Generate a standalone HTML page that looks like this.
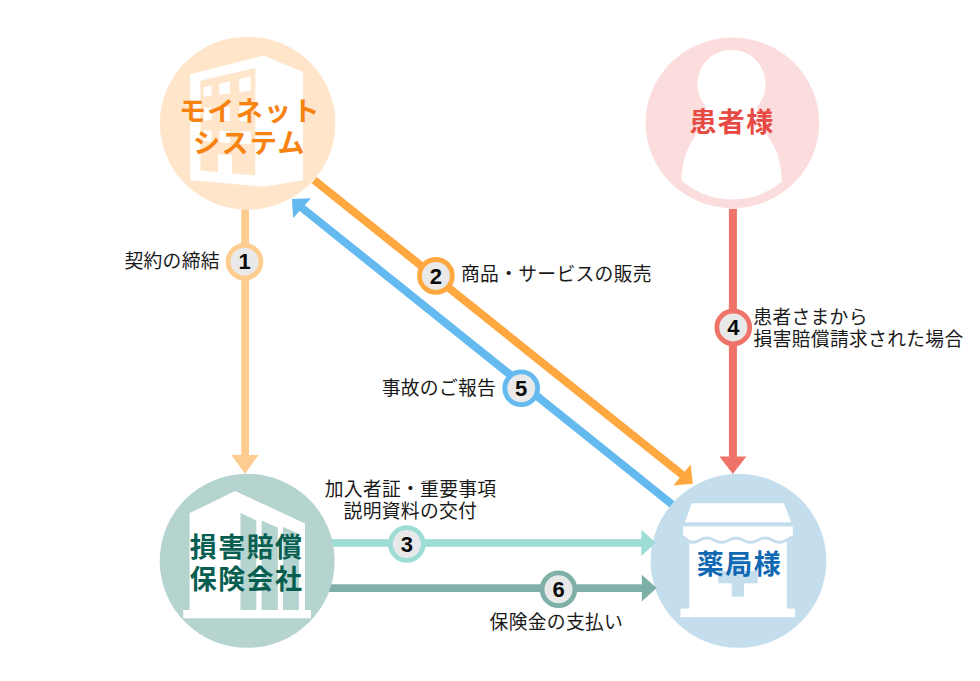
<!DOCTYPE html>
<html lang="ja">
<head>
<meta charset="utf-8">
<title>損害賠償保険の仕組み</title>
<style>
html,body{margin:0;padding:0;background:#fff;}
body{width:980px;height:681px;overflow:hidden;position:relative;font-family:"Liberation Sans","Noto Sans CJK JP",sans-serif;}
svg{position:absolute;left:0;top:0;display:block;}
.lbl{font-family:"Liberation Sans","Noto Sans CJK JP",sans-serif;font-size:18.8px;fill:#1a1a1a;letter-spacing:0.3px;}
.big{font-family:"Liberation Sans","Noto Sans CJK JP",sans-serif;font-weight:700;font-size:27px;text-anchor:middle;letter-spacing:1.4px;}
.num{font-family:"Liberation Sans","Noto Sans CJK JP",sans-serif;font-weight:700;font-size:22px;fill:#0a0a0a;text-anchor:middle;}
</style>
</head>
<body>
<svg width="980" height="681" viewBox="0 0 980 681">
<!-- ===== connector lines ===== -->
<g id="lines">
  <!-- 1 -->
  <rect x="241.2" y="208" width="7.8" height="248" fill="#FFCC8F"/>
  <polygon points="231.4,454.9 258.6,454.9 245.1,473.7" fill="#FFCC8F"/>
  <!-- 4 -->
  <rect x="728.9" y="208.8" width="8" height="249" fill="#F0736A"/>
  <polygon points="719.4,456.5 746.4,456.5 732.8,474" fill="#F0736A"/>
  <!-- 2 orange -->
  <line x1="314.2" y1="180.2" x2="683" y2="475.4" stroke="#FFA840" stroke-width="8"/>
  <polygon points="692.8,483.7 690.6,464.5 673.3,485.4" fill="#FFA840"/>
  <!-- 5 blue -->
  <line x1="301.5" y1="207.5" x2="676" y2="507.5" stroke="#64B9EF" stroke-width="8"/>
  <polygon points="291.9,198.9 311.1,198.2 293.2,218" fill="#64B9EF"/>
  <!-- 3 teal -->
  <rect x="325" y="539.1" width="318" height="7.7" fill="#9DDDD5"/>
  <!-- 6 dark teal -->
  <rect x="325" y="584.3" width="318" height="7.7" fill="#7FB0A8"/>
</g>

<!-- ===== circle 1 : moinet ===== -->
<g id="c1">
  <ellipse cx="247.65" cy="123.2" rx="87.8" ry="86.5" fill="#FFE5CA"/>
  <polygon points="190,74.3 263.6,55.6 303,72 303,180.2 263.6,186.7 190.5,180.2" fill="#fff"/>
  <polygon points="200.4,80.7 255.3,67.9 255.3,175.5 200.5,170.6" fill="#FFE5CA"/>
  <!-- windows -->
  <g fill="#fff">
    <polygon points="203.6,87.4 211.6,85.6 211.6,95.8 203.6,96.6"/>
    <polygon points="219.3,83.7 230,81.2 230,93.6 219.3,94.8"/>
    <polygon points="239.3,79 250.8,76.3 250.8,90.8 239.3,92.3"/>
    <polygon points="203.6,108 211.6,107.6 211.6,120.6 203.6,120.4"/>
    <polygon points="219.3,107.2 230,106.6 230,121 219.3,120.8"/>
    <polygon points="239.3,106 250.8,105.4 250.8,121.6 239.3,121.2"/>
    <polygon points="203.6,130.4 211.6,130.6 211.6,141.6 203.6,141"/>
    <polygon points="219.3,130.8 230,131 230,143 219.3,142.4"/>
    <polygon points="239.3,131.4 250.8,131.6 250.8,144.6 239.3,143.8"/>
    <polygon points="218,154.3 232.1,155 232.1,173.6 218,172.3"/>
  </g>
  <text class="big" x="249.9" y="121.2" fill="#F78210">モイネット</text>
  <text class="big" x="249.5" y="153" fill="#F78210">システム</text>
</g>

<!-- ===== circle 2 : patient ===== -->
<g id="c2">
  <ellipse cx="732.4" cy="122.9" rx="86.8" ry="85.3" fill="#FBDDDD"/>
  <clipPath id="pc"><ellipse cx="732.4" cy="122.7" rx="77.4" ry="76.8"/></clipPath>
  <g clip-path="url(#pc)" fill="#fff">
    <ellipse cx="731.5" cy="84" rx="34.2" ry="34.2"/>
    <path d="M706.3,106 C 703,116 700.5,124.5 697,132 S 691.5,141.5 688.6,147.4 S 684.8,156.5 683.5,162.6 S 681.3,175 681,182 L 680.6,215 L 782.4,215 L 782,182 C 781.7,175.0 780.8,168.7 779.5,162.6 C 778.2,156.5 777.3,153.3 774.4,147.4 C 771.5,141.5 769.5,139.5 766.0,132.0 C 762.5,124.5 760.0,116.0 756.7,106.0 Z"/>
  </g>
  <text class="big" x="732" y="132" fill="#E64A43">患者様</text>
</g>

<!-- ===== circle 3 : insurance ===== -->
<g id="c3">
  <ellipse cx="247.2" cy="560.85" rx="87.5" ry="87" fill="#B5D3CF"/>
  <polygon points="189.6,513.1 235.2,491.1 305,523.4 305,610 189.6,610" fill="#fff"/>
  <rect x="183.2" y="610" width="127.8" height="8.3" fill="#fff"/>
  <g fill="#B5D3CF">
    <polygon points="240.5,513.1 256.3,520.5 256.3,610 240.5,610"/>
    <polygon points="261.6,520.5 277.8,527.8 277.8,610 261.6,610"/>
    <polygon points="283,527 298.9,533.7 298.9,610 283,610"/>
  </g>
  <text class="big" x="246.6" y="556.5" fill="#085F51">損害賠償</text>
  <text class="big" x="246.6" y="589" fill="#085F51">保険会社</text>
</g>

<!-- ===== circle 4 : pharmacy ===== -->
<g id="c4">
  <ellipse cx="738.5" cy="560.85" rx="87.9" ry="87" fill="#C5DEED"/>
  <polygon points="691.8,503.2 784,503.2 791.1,522.2 685,522.2" fill="#fff"/>
  <path d="M683.2,526.6 L792.8,526.6 L792.8,536.5 C 789,538.5 785,542.3 779.8,542.3 C 772.5,542.3 772.5,538 765.2,538 C 757.9,538 757.9,542.3 750.6,542.3 C 743.3,542.3 743.3,538 736,538 C 728.7,538 728.7,542.3 721.4,542.3 C 714.1,542.3 714.1,538 706.8,538 C 699.5,538 699.5,542.3 692.2,542.3 C 688,542.3 686,538.5 683.2,536.5 Z" fill="#fff"/>
  <rect x="689.3" y="536" width="97.5" height="73" fill="#fff"/>
  <path d="M683.2,536.5 C 686,538.5 688,542.3 692.2,542.3 C 699.5,542.3 699.5,538 706.8,538 C 714.1,538 714.1,542.3 721.4,542.3 C 728.7,542.3 728.7,538 736,538 C 743.3,538 743.3,542.3 750.6,542.3 C 757.9,542.3 757.9,538 765.2,538 C 772.5,538 772.5,542.3 779.8,542.3 C 785,542.3 789,538.5 792.8,536.5" fill="none" stroke="#C5DEED" stroke-width="2.9"/>
  <rect x="680.5" y="608.6" width="114.5" height="8.6" fill="#fff"/>
  <rect x="718.1" y="571" width="39.6" height="12.3" fill="#C5DEED"/>
  <rect x="731.7" y="557.5" width="12.4" height="39.2" fill="#C5DEED"/>
  <text class="big" x="739.55" y="573.8" fill="#1068B3" style="letter-spacing:1.5px">薬局様</text>
</g>

<g id="heads">
  <polygon points="641.3,529.5 641.3,556 655.9,542.7" fill="#9DDDD5"/>
  <polygon points="641.8,574.8 641.8,601.5 656.7,588" fill="#7FB0A8"/>
</g>

<!-- ===== number badges ===== -->
<g id="badges">
  <circle cx="244.5" cy="261.7" r="16.4" fill="#E9E9E9" stroke="#FFCC8F" stroke-width="4.8"/>
  <text class="num" x="244.5" y="269.3">1</text>
  <circle cx="435.9" cy="275.9" r="16.4" fill="#E9E9E9" stroke="#FFA840" stroke-width="4.8"/>
  <text class="num" x="435.9" y="283.5">2</text>
  <circle cx="406.8" cy="544" r="16.4" fill="#E9E9E9" stroke="#9DDDD5" stroke-width="4.8"/>
  <text class="num" x="406.8" y="551.6">3</text>
  <circle cx="733.3" cy="327.4" r="16.4" fill="#E9E9E9" stroke="#F0736A" stroke-width="4.8"/>
  <text class="num" x="733.3" y="335.0">4</text>
  <circle cx="521.2" cy="388.3" r="16.4" fill="#E9E9E9" stroke="#64B9EF" stroke-width="4.8"/>
  <text class="num" x="521.2" y="395.9">5</text>
  <circle cx="558.5" cy="589.3" r="16.4" fill="#E9E9E9" stroke="#7FB0A8" stroke-width="4.8"/>
  <text class="num" x="558.5" y="596.9">6</text>
</g>

<!-- ===== labels ===== -->
<g id="labels">
  <text class="lbl" x="124.4" y="268.1">契約の締結</text>
  <text class="lbl" x="461" y="281.4">商品・サービスの販売</text>
  <text class="lbl" x="381.7" y="394.5">事故のご報告</text>
  <text class="lbl" x="753.3" y="324.1">患者さまから</text>
  <text class="lbl" x="753.6" y="346">損害賠償請求された場合</text>
  <text class="lbl" x="410.6" y="496.1" text-anchor="middle">加入者証・重要事項</text>
  <text class="lbl" x="410.4" y="517.9" text-anchor="middle">説明資料の交付</text>
  <text class="lbl" x="489.6" y="629">保険金の支払い</text>
</g>
</svg>
</body>
</html>
